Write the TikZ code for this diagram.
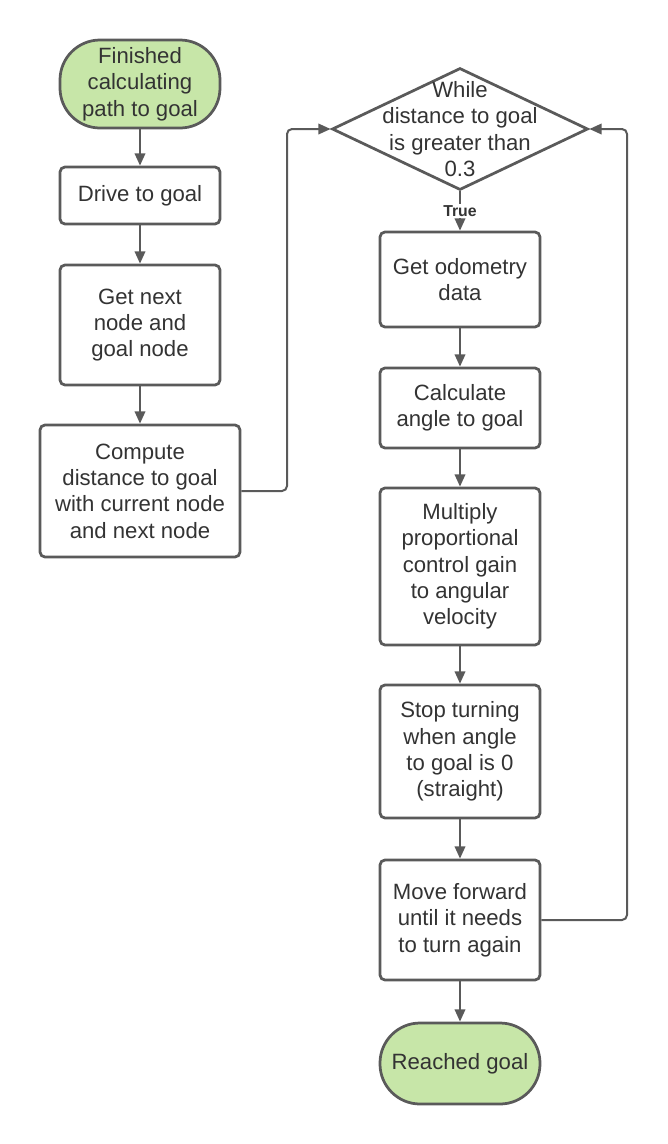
\documentclass[tikz,border=0pt]{standalone}
\usepackage{fontspec}
\setmainfont{Liberation Sans}
\usepackage{xcolor}
\usetikzlibrary{shapes.geometric,arrows.meta,calc}
\definecolor{edge}{HTML}{5A5A5A}
\definecolor{ink}{HTML}{333333}
\definecolor{termfill}{HTML}{C7E6A8}
\tikzset{
    box/.style={draw=edge, line width=0.55mm, rounded corners=0.1cm, fill=white,
        text=ink, align=center, inner sep=0pt, font=\fontsize{12.6}{15}\selectfont},
    term/.style={box, fill=termfill, rounded corners=0.8cm},
    arr/.style={draw=edge, line width=0.4mm, -{Triangle[length=7pt,width=6pt]}},
}

\begin{document}
\begin{tikzpicture}
        \useasboundingbox (0,0) rectangle (13.36,-22.88);
        % left column
        \node[term, minimum width=3.2cm, minimum height=1.76cm] (start) at (2.8,-1.68) {Finished\\calculating\\path to goal};
        \node[box, minimum width=3.2cm, minimum height=1.14cm] (drive) at (2.8,-3.91) {Drive to goal};
        \node[box, minimum width=3.2cm, minimum height=2.4cm] (next) at (2.8,-6.5) {Get next\\node and\\goal node};
        \node[box, minimum width=4.0cm, minimum height=2.64cm] (compute) at (2.8,-9.82) {Compute\\distance to goal\\with current node\\and next node};
        % right column
        \node[diamond, draw=edge, line width=0.55mm, fill=white, inner sep=0pt, minimum width=5.12cm, minimum height=2.44cm] (dia) at (9.2,-2.58) {};
        \node[text=ink, align=center, font=\fontsize{12.6}{15}\selectfont] (diatext) at (dia.center) {While\\distance to goal\\is greater than\\0.3};
        \node[box, minimum width=3.2cm, minimum height=1.9cm] (odom) at (9.2,-5.59) {Get odometry\\data};
        \node[box, minimum width=3.2cm, minimum height=1.6cm] (angle) at (9.2,-8.16) {Calculate\\angle to goal};
        \node[box, minimum width=3.2cm, minimum height=3.14cm] (mult) at (9.2,-11.33) {Multiply\\proportional\\control gain\\to angular\\velocity};
        \node[box, minimum width=3.2cm, minimum height=2.66cm] (stop) at (9.2,-15.03) {Stop turning\\when angle\\to goal is 0\\(straight)};
        \node[box, minimum width=3.2cm, minimum height=2.4cm] (move) at (9.2,-18.4) {Move forward\\until it needs\\to turn again};
        \node[term, minimum width=3.2cm, minimum height=1.62cm] (reached) at (9.2,-21.27) {Reached goal};
        % loop corners
        \coordinate (loopL) at (5.74,-2.58);
        \coordinate (loopR) at (12.54,-2.58);

        % arrows
        \draw[arr] (start) -- (drive);
        \draw[arr] (drive) -- (next);
        \draw[arr] (next) -- (compute);
        \draw[arr, rounded corners=0.1cm] (compute.east) -| (loopL) -- (dia.west);
        \draw[arr] (dia.south) -- node[fill=white, text=ink, inner sep=1pt, font=\fontsize{9}{10}\selectfont\bfseries] (truelbl) {True} (odom.north);
        \draw[arr] (odom) -- (angle);
        \draw[arr] (angle) -- (mult);
        \draw[arr] (mult) -- (stop);
        \draw[arr] (stop) -- (move);
        \draw[arr, rounded corners=0.1cm] (move.east) -| (loopR) -- (dia.east);
        \draw[arr] (move) -- (reached);
    \end{tikzpicture}
\end{document}
